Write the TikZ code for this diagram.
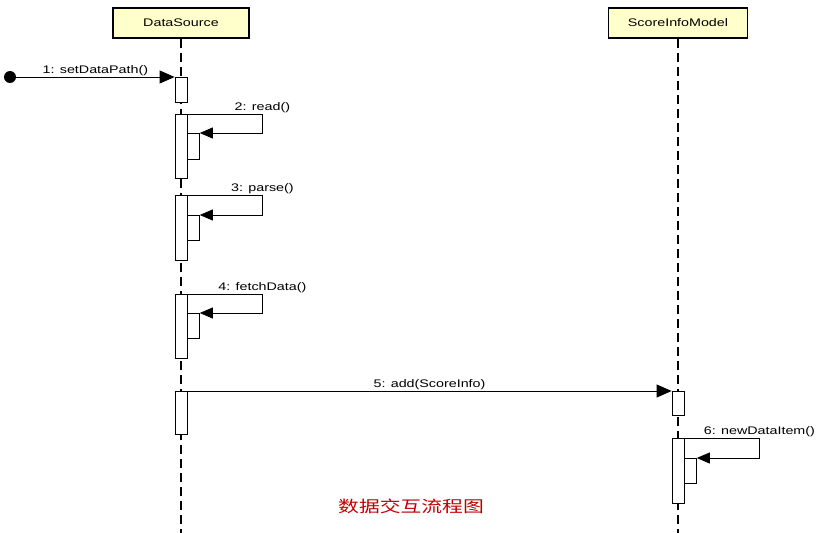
\documentclass[tikz,border=0pt]{standalone}
\usepackage{fontspec}
\usetikzlibrary{arrows.meta,positioning}
\newfontfamily\umlfont[FakeStretch=1.3]{Liberation Sans}
\newfontfamily\cjkfont[FakeStretch=1.3]{Noto Sans CJK SC}
\definecolor{objfill}{HTML}{FFFFCC}
\definecolor{capred}{HTML}{C00000}
\tikzset{
  objbox/.style={draw, line width=1.6pt, fill=objfill, minimum width=136pt, minimum height=30pt, font=\umlfont\fontsize{11}{13}\selectfont},
  lifeline/.style={line width=1.1pt, dash pattern=on 9pt off 5pt},
  actbar/.style={draw, fill=white, minimum width=12pt, inner sep=0pt, line width=0.8pt},
  msg/.style={line width=0.8pt, -{Triangle[length=13pt,width=11pt]}},
  callmsg/.style={line width=0.8pt, -{Triangle[length=15pt,width=13pt]}},
  msglabel/.style={font=\umlfont\fontsize{11}{13}\selectfont, inner sep=1pt}
}

\begin{document}
\begin{tikzpicture}[x=1pt,y=-1pt]
		\useasboundingbox (0,0) rectangle (825,533);
		%% the two objects and their lifelines
		\node[objbox] (ds) at (181,23) {DataSource};
		\node[objbox, minimum width=139pt] (sim) at (678,23) {ScoreInfoModel};
		\coordinate (dsend) at (181,533);
		\coordinate (simend) at (678,533);
		\draw[lifeline] (ds.south) -- (dsend);
		\draw[lifeline] (sim.south) -- (simend);
		%% activation bars of DataSource
		\node[actbar, minimum height=25pt, anchor=north] (a1) at (181,77) {};
		\node[actbar, minimum height=64pt, anchor=north] (a2) at (181,114) {};
		\node[actbar, minimum height=26pt, anchor=north west] (n2) at (187,133) {};
		\node[actbar, minimum height=65pt, anchor=north] (a3) at (181,195) {};
		\node[actbar, minimum height=25pt, anchor=north west] (n3) at (187,215) {};
		\node[actbar, minimum height=64pt, anchor=north] (a4) at (181,294) {};
		\node[actbar, minimum height=25pt, anchor=north west] (n4) at (187,313) {};
		\node[actbar, minimum height=43pt, anchor=north] (a5) at (181,391) {};
		%% activation bars of ScoreInfoModel
		\node[actbar, minimum height=24pt, anchor=north] (s5) at (678,391) {};
		\node[actbar, minimum height=65pt, anchor=north] (s6) at (678,438) {};
		\node[actbar, minimum height=25pt, anchor=north west] (n6) at (684,458) {};
		%% messages
		\node[circle, fill, minimum size=12pt, inner sep=0pt] (start) at (10,77) {};
		\draw[callmsg] (start) -- (a1.north west) node[midway, above, msglabel] {1: setDataPath()};
		\draw[msg] (a2.north east) -- ++(75,0) coordinate (c2) |- (n2.north east);
		\node[msglabel, above=0pt of c2] {2: read()};
		\draw[msg] (a3.north east) -- ++(75,0) coordinate (c3) |- (n3.north east);
		\node[msglabel, above=0pt of c3] {3: parse()};
		\draw[msg] (a4.north east) -- ++(75,0) coordinate (c4) |- (n4.north east);
		\node[msglabel, above=0pt of c4] {4: fetchData()};
		\draw[callmsg] (a5.north east) -- (s5.north west) node[midway, above, msglabel] {5: add(ScoreInfo)};
		\draw[msg] (s6.north east) -- ++(75,0) coordinate (c6) |- (n6.north east);
		\node[msglabel, above=0pt of c6] {6: newDataItem()};
		%% caption
		\node[font=\cjkfont\fontsize{16}{18}\selectfont, text=capred] (caption) at (411,506) {数据交互流程图};
	\end{tikzpicture}
\end{document}
